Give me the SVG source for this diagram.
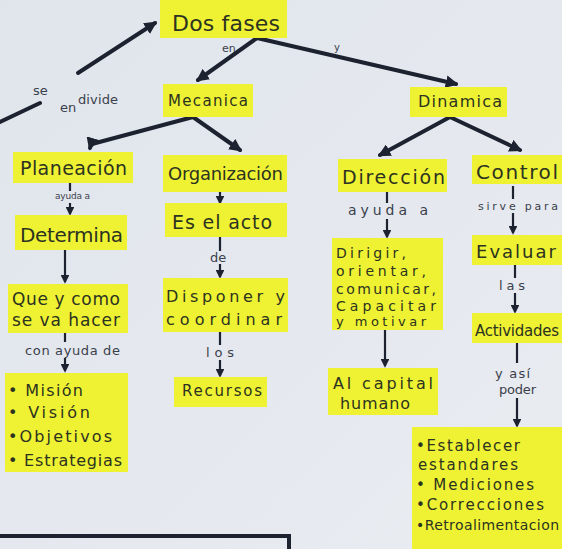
<svg xmlns="http://www.w3.org/2000/svg" width="562" height="549" viewBox="0 0 562 549">
<defs>
<marker id="ah" viewBox="0 0 10 10" refX="8" refY="5" markerWidth="3.2" markerHeight="3.2" orient="auto" markerUnits="strokeWidth">
<path d="M0,0 L10,5 L0,10 z" fill="#1d2230"/>
</marker>
<marker id="ahs" viewBox="0 0 10 10" refX="8" refY="5" markerWidth="4" markerHeight="4" orient="auto" markerUnits="strokeWidth">
<path d="M0,0 L10,5 L0,10 z" fill="#1d2230"/>
</marker>
<linearGradient id="bg" x1="0" y1="0" x2="1" y2="1">
<stop offset="0" stop-color="#e0e5ec"/>
<stop offset="1" stop-color="#e9ecf1"/>
</linearGradient>
</defs>
<style>
.box{fill:#eff232;}
.t{font-family:"DejaVu Sans","Liberation Sans",sans-serif;fill:#2c3320;}
.l{font-family:"DejaVu Sans","Liberation Sans",sans-serif;fill:#3a3f4c;}
.main{stroke:#1d2230;stroke-width:4;fill:none;stroke-linecap:round;}
.thin{stroke:#1d2230;stroke-width:2.2;fill:none;}
</style>
<rect width="562" height="549" fill="url(#bg)"/>

<g id="connectors">
<line class="main" x1="78" y1="73" x2="155" y2="23" marker-end="url(#ah)"/>
<line class="main" x1="0" y1="122" x2="40" y2="103"/>
<line class="main" x1="257" y1="38" x2="198" y2="80" marker-end="url(#ah)"/>
<line class="main" x1="257" y1="38" x2="456" y2="84" marker-end="url(#ah)"/>
<polyline class="main" points="193,117 92,144"/>
<line class="main" x1="92" y1="141" x2="90" y2="148" marker-end="url(#ah)"/>
<line class="main" x1="193" y1="117" x2="240" y2="150" marker-end="url(#ah)"/>
<line class="main" x1="450" y1="117" x2="380" y2="155" marker-end="url(#ah)"/>
<line class="main" x1="450" y1="117" x2="520" y2="150" marker-end="url(#ah)"/>
<line class="thin" x1="70" y1="183" x2="70" y2="191"/>
<line class="thin" x1="70" y1="203" x2="70" y2="214" marker-end="url(#ahs)"/>
<line class="thin" x1="65" y1="250" x2="65" y2="282" marker-end="url(#ahs)"/>
<line class="thin" x1="65" y1="333" x2="65" y2="342"/>
<line class="thin" x1="65" y1="358" x2="65" y2="371" marker-end="url(#ahs)"/>
<line class="thin" x1="220" y1="192" x2="220" y2="203" marker-end="url(#ahs)"/>
<line class="thin" x1="220" y1="237" x2="220" y2="251"/>
<line class="thin" x1="220" y1="264" x2="220" y2="277" marker-end="url(#ahs)"/>
<line class="thin" x1="220" y1="332" x2="220" y2="345"/>
<line class="thin" x1="220" y1="360" x2="220" y2="376" marker-end="url(#ahs)"/>
<line class="thin" x1="387" y1="192" x2="387" y2="203"/>
<line class="thin" x1="387" y1="219" x2="387" y2="237" marker-end="url(#ahs)"/>
<line class="thin" x1="385" y1="330" x2="385" y2="366" marker-end="url(#ahs)"/>
<line class="thin" x1="513" y1="186" x2="513" y2="199"/>
<line class="thin" x1="513" y1="213" x2="513" y2="233" marker-end="url(#ahs)"/>
<line class="thin" x1="515" y1="265" x2="515" y2="278"/>
<line class="thin" x1="515" y1="293" x2="515" y2="312" marker-end="url(#ahs)"/>
<line class="thin" x1="517" y1="343" x2="517" y2="363"/>
<line class="thin" x1="517" y1="398" x2="517" y2="426" marker-end="url(#ahs)"/>
</g>

<g id="labels">
<text class="l" x="33" y="95" font-size="13">se</text>
<text class="l" x="78" y="104" font-size="13" textLength="40">divide</text>
<text class="l" x="60" y="112" font-size="13">en</text>
<text class="l" x="222" y="52" font-size="11">en</text>
<text class="l" x="334" y="51" font-size="10">y</text>
<text class="l" x="55" y="199" font-size="9" textLength="35">ayuda a</text>
<text class="l" x="25" y="355" font-size="13" textLength="95">con ayuda de</text>
<text class="l" x="210" y="262" font-size="13">de</text>
<text class="l" x="206" y="357" font-size="13" textLength="28">los</text>
<text class="l" x="348" y="215" font-size="14" textLength="80">ayuda a</text>
<text class="l" x="478" y="210" font-size="11" textLength="80">sirve para</text>
<text class="l" x="499" y="290" font-size="13" textLength="26">las</text>
<text class="l" x="495" y="378" font-size="13" textLength="35">y así</text>
<text class="l" x="499" y="394" font-size="13" textLength="37">poder</text>
</g>

<g id="dos-fases"><rect class="box" x="160" y="0" width="127" height="38"/><text class="t" x="172" y="31" font-size="22" textLength="108">Dos fases</text></g>
<g id="mecanica"><rect class="box" x="163" y="84" width="90" height="33"/><text class="t" x="168" y="106" font-size="15" textLength="80">Mecanica</text></g>
<g id="dinamica"><rect class="box" x="410" y="87" width="97" height="30"/><text class="t" x="418" y="107" font-size="16" textLength="84">Dinamica</text></g>

<g id="planeacion"><rect class="box" x="13" y="152" width="120" height="31"/><text class="t" x="20" y="175" font-size="19" textLength="107">Planeación</text></g>
<g id="determina"><rect class="box" x="15" y="215" width="112" height="35"/><text class="t" x="20" y="242" font-size="20" textLength="103">Determina</text></g>
<g id="que-y-como"><rect class="box" x="8" y="284" width="120" height="49"/><text class="t" x="12" y="305" font-size="17" textLength="108">Que y como</text><text class="t" x="12" y="326" font-size="17" textLength="108">se va hacer</text></g>
<g id="lista-planeacion"><rect class="box" x="5" y="373" width="123" height="99"/>
<text class="t" x="8" y="396" font-size="16" textLength="75">• Misión</text>
<text class="t" x="8" y="418" font-size="16" textLength="82">• Visión</text>
<text class="t" x="8" y="442" font-size="16" textLength="104">•Objetivos</text>
<text class="t" x="8" y="466" font-size="16" textLength="114">• Estrategias</text></g>

<g id="organizacion"><rect class="box" x="163" y="155" width="124" height="37"/><text class="t" x="168" y="180" font-size="18" textLength="115">Organización</text></g>
<g id="es-el-acto"><rect class="box" x="165" y="203" width="122" height="34"/><text class="t" x="172" y="229" font-size="19" textLength="100">Es el acto</text></g>
<g id="disponer"><rect class="box" x="163" y="278" width="125" height="54"/><text class="t" x="166" y="302" font-size="16" textLength="119">Disponer y</text><text class="t" x="166" y="325" font-size="16" textLength="116">coordinar</text></g>
<g id="recursos"><rect class="box" x="174" y="377" width="93" height="30"/><text class="t" x="182" y="396" font-size="15" textLength="80">Recursos</text></g>

<g id="direccion"><rect class="box" x="338" y="159" width="109" height="33"/><text class="t" x="342" y="184" font-size="19" textLength="103">Dirección</text></g>
<g id="dirigir"><rect class="box" x="332" y="238" width="111" height="92"/>
<text class="t" x="336" y="258" font-size="14" textLength="70">Dirigir,</text>
<text class="t" x="336" y="276" font-size="14" textLength="90">orientar,</text>
<text class="t" x="336" y="294" font-size="14" textLength="100">comunicar,</text>
<text class="t" x="336" y="311" font-size="14" textLength="100">Capacitar</text>
<text class="t" x="336" y="326" font-size="13" textLength="90">y motivar</text></g>
<g id="capital-humano"><rect class="box" x="328" y="368" width="110" height="47"/><text class="t" x="333" y="389" font-size="16" textLength="100">Al capital</text><text class="t" x="340" y="409" font-size="16" textLength="70">humano</text></g>

<g id="control"><rect class="box" x="472" y="155" width="90" height="29"/><text class="t" x="476" y="179" font-size="20" textLength="82">Control</text></g>
<g id="evaluar"><rect class="box" x="472" y="235" width="90" height="30"/><text class="t" x="476" y="258" font-size="18" textLength="80">Evaluar</text></g>
<g id="actividades"><rect class="box" x="472" y="313" width="90" height="30"/><text class="t" x="475" y="336" font-size="15" textLength="84">Actividades</text></g>
<g id="lista-control"><rect class="box" x="412" y="427" width="150" height="122"/>
<text class="t" x="416" y="451" font-size="15" textLength="104">•Establecer</text>
<text class="t" x="418" y="470" font-size="15" textLength="100">estandares</text>
<text class="t" x="416" y="490" font-size="15" textLength="118">• Mediciones</text>
<text class="t" x="416" y="510" font-size="15" textLength="128">•Correcciones</text>
<text class="t" x="416" y="530" font-size="14" textLength="143">•Retroalimentacion</text></g>

<g id="frame-bottom"><polyline points="0,536 289,536 289,549" fill="none" stroke="#1d2230" stroke-width="4"/></g>
</svg>
